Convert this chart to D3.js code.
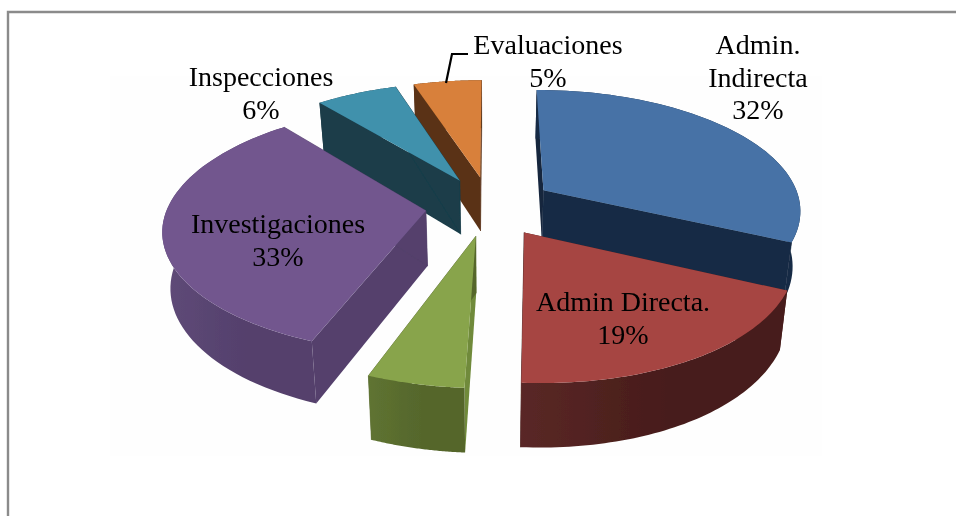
<!DOCTYPE html>
<html><head><meta charset="utf-8">
<script src="https://d3js.org/d3.v7.min.js"></script>
<style>html,body{margin:0;padding:0;background:#fff;overflow:hidden}svg{display:block}</style>
</head><body><svg id="c" width="956" height="516"></svg>
<script>
// ---- data ----
const categories = ["Admin. Indirecta","Admin Directa.","Otros","Investigaciones","Inspecciones","Evaluaciones"];
const values = [32,19,5,33,6,5];
const labelLines = [["Admin.","Indirecta"],["Admin Directa."],[],["Investigaciones"],["Inspecciones"],["Evaluaciones"]];
// ---- styles ----
const topColors   = ["#4672a6","#a64543","#88a44b","#72578e","#3f91ac","#d8803a"];
const wallColors  = ["#182b45","#471c1a","#55662c","#54406c","#1a3c48","#5a3317"];
const wallLeft    = ["#182b45","#5a2826","#5f7431","#5f4a78","#1a3c48","#5a3317"];
const startWall   = ["#16263d","#471c1a","#6f8a3a","#54406c","#1a3c48","#5a3317"];
const labelAnchor = [[758,54],[623,311],null,[278,233],[261,86],[548,54]];
const explode = 0.25;
const view = {cx:490, cy:206, A:258, B:119.5, k:0.148, H:55, taper:0.975, shear:7.5};

const svg = d3.select("#c");
const defs = svg.append("defs");
svg.append("rect").attr("width",956).attr("height",516).attr("fill","#fff");
svg.append("rect").attr("x",110).attr("y",76).attr("width",712).attr("height",380).attr("fill","#fefefe");
svg.append("path").attr("d","M8,516V12H956").attr("fill","none").attr("stroke","#8b8b8b").attr("stroke-width",2.4);

const blur = defs.append("filter").attr("id","soft").attr("x","-5%").attr("y","-5%").attr("width","110%").attr("height","110%");
blur.append("feGaussianBlur").attr("stdDeviation",0.55);
const blurT = defs.append("filter").attr("id","softT").attr("x","-5%").attr("y","-5%").attr("width","110%").attr("height","110%");
blurT.append("feGaussianBlur").attr("stdDeviation",0.35);

// perspective projection of the pie plane; z=0 top face, z=1 bottom face
function project(X,Y,z){
  const w = 1 + view.k*Y;
  let sx = view.A*X/w + (Y<0 ? view.shear*Y*Y : 0), sy = -view.B*Y/w;
  if(z){ sx *= view.taper; sy += view.H/Math.pow(w,0.8); }
  return [view.cx+sx, view.cy+sy];
}
const slices = d3.pie().sort(null).value(d=>d.v)(values.map((v,i)=>({v,i})));
const line = d3.line();
const closed = pts => line(pts)+"Z";

slices.forEach(s=>{
  const mid=(s.startAngle+s.endAngle)/2;
  s.ox=explode*Math.sin(mid); s.oy=explode*Math.cos(mid);
  s.rim=z=>d3.range(0,61).map(j=>{
    const a=s.startAngle+(s.endAngle-s.startAngle)*j/60;
    return project(s.ox+Math.sin(a),s.oy+Math.cos(a),z);
  });
});
const order = slices.slice().sort((a,b)=>b.oy-a.oy);
const g = svg.append("g").attr("filter","url(#soft)");
order.forEach(s=>{
  const i=s.data.i, top=s.rim(0), bot=s.rim(1);
  const a0=project(s.ox,s.oy,0), a1=project(s.ox,s.oy,1);
  const n=top.length-1;
  const gid="wall"+i;
  const lg=defs.append("linearGradient").attr("id",gid);
  lg.append("stop").attr("offset","0%").attr("stop-color",wallLeft[i]);
  lg.append("stop").attr("offset","55%").attr("stop-color",wallColors[i]);
  lg.append("stop").attr("offset","100%").attr("stop-color",wallColors[i]);
  g.append("path").attr("d",closed([a0,top[0],bot[0],a1])).attr("fill",startWall[i]);
  g.append("path").attr("d",closed([a0,top[n],bot[n],a1])).attr("fill",wallColors[i]).attr("stroke",wallColors[i]).attr("stroke-width",0.6);
  g.append("path").attr("d",closed(top.concat(bot.slice().reverse()))).attr("fill",`url(#${gid})`);
  g.append("path").attr("d",closed([a0].concat(top))).attr("fill",topColors[i]);
});

// labels
const pct = d3.format(".0%"), total=d3.sum(values);
const labels = svg.append("g").attr("filter","url(#softT)").attr("font-family","'Liberation Serif',serif").attr("font-size",28).attr("fill","#000").attr("text-anchor","middle");
values.forEach((v,i)=>{
  const a=labelAnchor[i]; if(!a) return;
  const lines=labelLines[i].concat([pct(v/total)]);
  const gap = 32.5;
  lines.forEach((t,j)=>labels.append("text").attr("x",a[0]).attr("y",a[1]+j*gap).text(t));
});
// leader line for Evaluaciones
svg.append("path").attr("d",line([[468,54],[452,54],[446,83]])).attr("fill","none").attr("stroke","#000").attr("stroke-width",2.2);
</script></body></html>
